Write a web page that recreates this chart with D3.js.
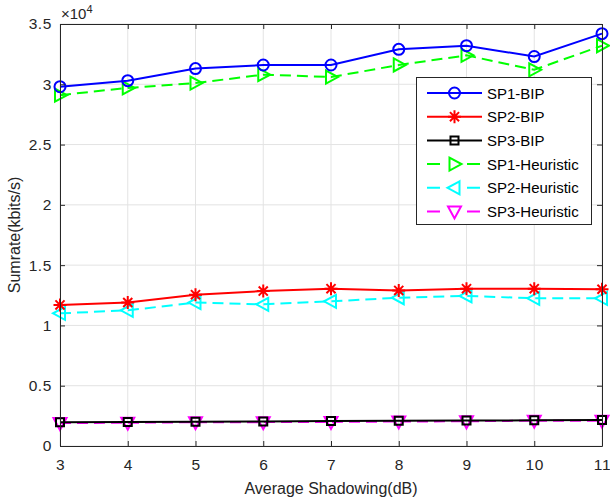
<!DOCTYPE html>
<html>
<head>
<meta charset="utf-8">
<script src="https://cdn.jsdelivr.net/npm/d3@7"></script>
<style>
  body { margin: 0; background: #fff; }
  svg { font-family: "Liberation Sans", Arial, sans-serif; }
</style>
</head>
<body>
<svg width="610" height="500"></svg>
<script>
let xValues = [3, 4, 5, 6, 7, 8, 9, 10, 11];
let yTicks = [0, 0.5, 1, 1.5, 2, 2.5, 3, 3.5];
let yTickLabels = ['0', '0.5', '1', '1.5', '2', '2.5', '3', '3.5'];

// values in units of 10^4 kbits/s
let sp1Bip = [2.98, 3.03, 3.13, 3.16, 3.16, 3.29, 3.32, 3.23, 3.42];
let sp2Bip = [1.17, 1.19, 1.255, 1.285, 1.305, 1.29, 1.305, 1.305, 1.30];
let sp3Bip = [0.197, 0.199, 0.201, 0.203, 0.208, 0.21, 0.211, 0.213, 0.215];
let sp1Heu = [2.91, 2.97, 3.01, 3.08, 3.06, 3.16, 3.24, 3.12, 3.32];
let sp2Heu = [1.10, 1.125, 1.19, 1.175, 1.20, 1.23, 1.245, 1.225, 1.225];
let sp3Heu = [0.19, 0.193, 0.197, 0.198, 0.2, 0.203, 0.205, 0.21, 0.21];

let seriesNames = ['SP1-BIP', 'SP2-BIP', 'SP3-BIP', 'SP1-Heuristic', 'SP2-Heuristic', 'SP3-Heuristic'];
let seriesData = [sp1Bip, sp2Bip, sp3Bip, sp1Heu, sp2Heu, sp3Heu];
let seriesColors = ['#0000ff', '#ff0000', '#000000', '#00ff00', '#00ffff', '#ff00ff'];
let seriesMarkers = ['circle', 'star', 'square', 'triRight', 'triLeft', 'triDown'];
let seriesDashed = [false, false, false, true, true, true];

let padL = 60, padR = 602, padT = 24, padB = 446;
let svg = d3.select('svg');
let axisColor = '#262626';

let xScale = d3.scaleLinear().domain([3, 11]).range([padL, padR]);
let yScale = d3.scaleLinear().domain([0, 3.5]).range([padB, padT]);

// grid
let grid = svg.append('g');
grid.selectAll('.gx').data(xValues).enter().append('line')
    .attr('x1', d => xScale(d)).attr('x2', d => xScale(d))
    .attr('y1', padT).attr('y2', padB)
    .attr('stroke', '#e3e3e3').attr('stroke-width', 1);
grid.selectAll('.gy').data(yTicks).enter().append('line')
    .attr('y1', d => yScale(d)).attr('y2', d => yScale(d))
    .attr('x1', padL).attr('x2', padR)
    .attr('stroke', '#e3e3e3').attr('stroke-width', 1);

let markerPath = (type, x, y) => {
    let p = d3.path();
    if (type === 'square') {
        p.rect(x - 4, y - 4, 8, 8);
    } else if (type === 'triRight') {
        p.moveTo(x - 5, y - 6.5); p.lineTo(x + 7, y); p.lineTo(x - 5, y + 6.5); p.closePath();
    } else if (type === 'triLeft') {
        p.moveTo(x + 5, y - 6.5); p.lineTo(x - 7, y); p.lineTo(x + 5, y + 6.5); p.closePath();
    } else if (type === 'triDown') {
        p.moveTo(x - 6.5, y - 5); p.lineTo(x + 6.5, y - 5); p.lineTo(x, y + 7); p.closePath();
    } else if (type === 'star') {
        let r = 6.5;
        p.moveTo(x - r, y); p.lineTo(x + r, y);
        p.moveTo(x, y - r); p.lineTo(x, y + r);
        p.moveTo(x - r * 0.7, y - r * 0.7); p.lineTo(x + r * 0.7, y + r * 0.7);
        p.moveTo(x - r * 0.7, y + r * 0.7); p.lineTo(x + r * 0.7, y - r * 0.7);
    }
    return p.toString();
}

let drawMarker = (g, type, x, y, color) => {
    if (type === 'circle') {
        g.append('circle').attr('cx', x).attr('cy', y).attr('r', 5.5)
            .attr('fill', 'none').attr('stroke', color).attr('stroke-width', 2);
    } else {
        g.append('path').attr('d', markerPath(type, x, y))
            .attr('fill', 'none').attr('stroke', color).attr('stroke-width', 2);
    }
}

let line = d3.line().x((d, i) => xScale(xValues[i])).y(d => yScale(d));

// draw in reverse so BIP lines sit on top
let plot = svg.append('g');
[5, 4, 3, 2, 1, 0].forEach(k => {
    let g = plot.append('g');
    g.append('path').datum(seriesData[k])
        .attr('d', line)
        .attr('fill', 'none')
        .attr('stroke', seriesColors[k])
        .attr('stroke-width', 2)
        .attr('stroke-dasharray', seriesDashed[k] ? '11,6' : null);
    seriesData[k].forEach((v, i) => drawMarker(g, seriesMarkers[k], xScale(xValues[i]), yScale(v), seriesColors[k]));
});

// axes
let xAxis = d3.axisBottom(xScale).tickValues(xValues).tickSizeInner(-5).tickSizeOuter(0).tickPadding(13);
let yAxis = d3.axisLeft(yScale).tickValues(yTicks).tickFormat((d, i) => yTickLabels[i]).tickSizeInner(-5).tickSizeOuter(0).tickPadding(8);
let xTop = d3.axisTop(xScale).tickValues(xValues).tickSizeInner(-5).tickSizeOuter(0).tickFormat('');
let yRight = d3.axisRight(yScale).tickValues(yTicks).tickSizeInner(-5).tickSizeOuter(0).tickFormat('');

let styleAxis = g => {
    g.select('.domain').attr('stroke', axisColor).attr('stroke-width', 1);
    g.selectAll('.tick line').attr('stroke', axisColor);
    g.selectAll('.tick text').attr('fill', axisColor).style('font-size', '15.5px').style('letter-spacing', '0.6px');
}

svg.append('g').attr('transform', 'translate(0,' + padB + ')').call(xAxis).call(styleAxis);
svg.append('g').attr('transform', 'translate(' + padL + ',0)').call(yAxis).call(styleAxis);
svg.append('g').attr('transform', 'translate(0,' + padT + ')').call(xTop).call(styleAxis);
svg.append('g').attr('transform', 'translate(' + padR + ',0)').call(yRight).call(styleAxis);

// exponent
let expo = svg.append('text').attr('x', padL + 1).attr('y', padT - 5)
    .attr('fill', axisColor).style('font-size', '15px');
expo.append('tspan').text('\u00d710');
expo.append('tspan').attr('dy', -6).style('font-size', '11px').text('4');

// labels
svg.append('text').attr('x', (padL + padR) / 2).attr('y', 494)
    .attr('text-anchor', 'middle').attr('fill', axisColor).style('font-size', '16px')
    .text('Average Shadowing(dB)');
svg.append('text').attr('transform', 'translate(20,' + ((padT + padB) / 2) + ') rotate(-90)')
    .attr('text-anchor', 'middle').attr('fill', axisColor).style('font-size', '16px')
    .text('Sumrate(kbits/s)');

// legend
let lg = svg.append('g');
lg.append('rect').attr('x', 416.5).attr('y', 77.5).attr('width', 175).attr('height', 147)
    .attr('fill', '#fff').attr('stroke', axisColor).attr('stroke-width', 1);
seriesNames.forEach((name, k) => {
    let y = 93 + k * 23.7;
    lg.append('line').attr('x1', 427).attr('x2', 482).attr('y1', y).attr('y2', y)
        .attr('stroke', seriesColors[k]).attr('stroke-width', 2)
        .attr('stroke-dasharray', seriesDashed[k] ? '13,27' : null);
    drawMarker(lg, seriesMarkers[k], 454.5, y, seriesColors[k]);
    lg.append('text').attr('x', 487).attr('y', y + 5.5).attr('fill', '#000')
        .style('font-size', '15px').text(name);
});
</script>
</body>
</html>
